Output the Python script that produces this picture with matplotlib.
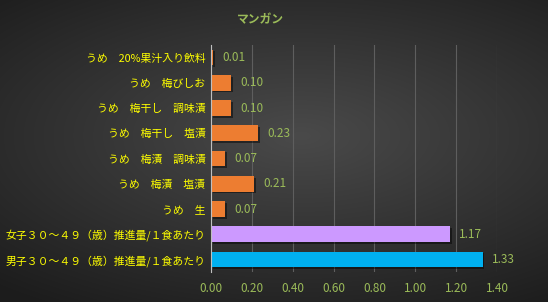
import numpy as np
import matplotlib
matplotlib.use("Agg")
import matplotlib.pyplot as plt
import matplotlib.patheffects as pe

plt.rcParams['font.family'] = ['Noto Sans CJK JP', 'DejaVu Sans']

# データ（上から順）
labels = ["うめ　20%果汁入り飲料", "うめ　梅びしお", "うめ　梅干し　調味漬",
          "うめ　梅干し　塩漬", "うめ　梅漬　調味漬", "うめ　梅漬　塩漬", "うめ　生",
          "女子３０～４９（歳）推進量/１食あたり", "男子３０～４９（歳）推進量/１食あたり"]
values = [0.01, 0.10, 0.10, 0.23, 0.07, 0.21, 0.07, 1.17, 1.33]
bar_colors = ["#ED7D31"] * 7 + ["#CC99FF", "#00B0F0"]
xticks = [0.0, 0.2, 0.4, 0.6, 0.8, 1.0, 1.2, 1.4]

fig = plt.figure(figsize=(5.48, 3.02), dpi=100)

# 背景のグラデーション
bg = fig.add_axes([0, 0, 1, 1])
yy, xx = np.mgrid[1:-1:302j, -1:1:548j]
r = np.sqrt(((xx - 0.1) * 0.9) ** 2 + ((yy - 0.1) * 1.1) ** 2)
shade = np.clip(0.29 - 0.12 * r, 0.11, 0.29)
bg.imshow(np.dstack([shade] * 3), aspect='auto', extent=[0, 1, 0, 1])
bg.axis('off')

ax = fig.add_axes([0.385, 0.099, 0.522, 0.752])
ax.set_facecolor('none')
y = np.arange(len(values))
bars = ax.barh(y, values, height=0.62, color=bar_colors, zorder=3)
for b in bars:
    b.set_path_effects([pe.SimplePatchShadow(offset=(1.2, -1.2), shadow_rgbFace='black', alpha=0.45), pe.Normal()])
ax.set_ylim(len(values) - 0.5, -0.5)
ax.set_xlim(0, 1.4)
ax.set_xticks(xticks)
ax.set_xticklabels([f"{t:.2f}" for t in xticks], color="#9BBB59", fontsize=8.5)
ax.set_yticks(y)
ax.set_yticklabels(labels, color="#FFFF00", fontsize=7.8)
ax.tick_params(length=0, pad=4)
ax.tick_params(axis='x', pad=7)
ax.grid(axis='x', color="#5e5e5e", linewidth=0.8, zorder=0)
for s in ['top', 'right', 'bottom']:
    ax.spines[s].set_visible(False)
ax.spines['left'].set_color("#bfbfbf")
ax.spines['left'].set_zorder(4)

for yi, v in zip(y, values):
    ax.text(v + 0.045, yi, f"{v:.2f}", va='center', ha='left', color="#9BBB59", fontsize=8.5)

fig.text(0.476, 0.934, "マンガン", ha='center', va='center', color="#9BBB59", fontsize=8.5, fontweight='bold')

fig.savefig("out.png", dpi=100)
